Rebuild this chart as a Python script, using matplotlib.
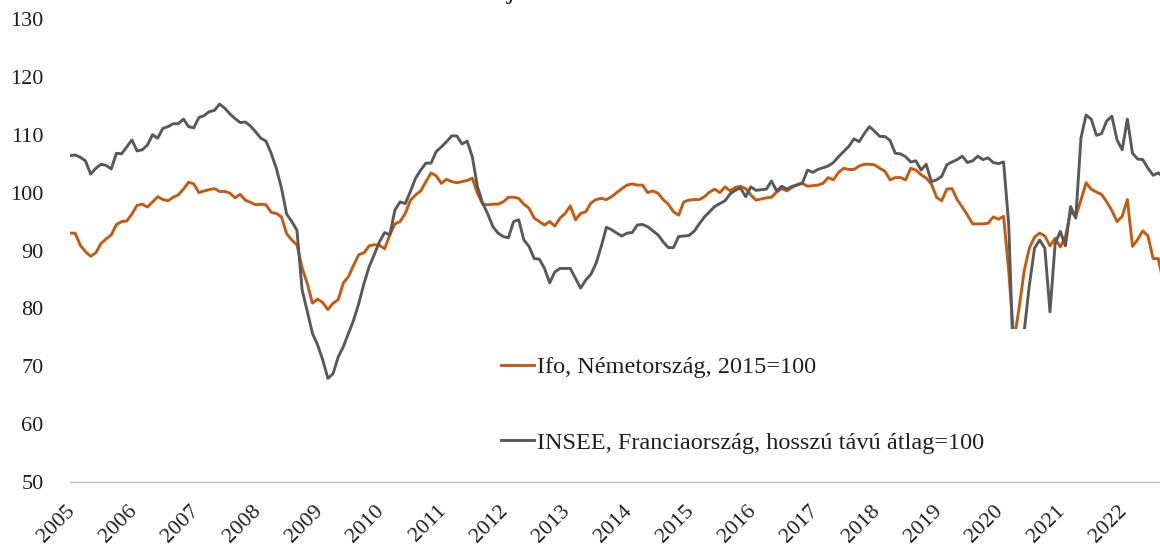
import numpy as np
import matplotlib
matplotlib.use('Agg')
import matplotlib.pyplot as plt
import matplotlib.transforms as mtransforms

# ---------------- data ----------------
start_year = 2005
year_labels = [str(y) for y in range(2005, 2023)]
ifo_label = 'Ifo, Németország, 2015=100'
insee_label = 'INSEE, Franciaország, hosszú távú átlag=100'

# monthly, Jan 2005 - Sep 2022
ifo = [
    93.0, 93.0, 90.9, 89.8, 89.0, 89.6, 91.2, 92.0, 92.7, 94.5, 95.0, 95.1,
    96.3, 97.8, 98.0, 97.5, 98.4, 99.3, 98.8, 98.6, 99.2, 99.6, 100.6, 101.8,
    101.5, 100.0, 100.3, 100.5, 100.7, 100.2, 100.2, 99.9, 99.1, 99.7, 98.7, 98.3,
    97.9, 98.0, 97.9, 96.6, 96.4, 95.8, 92.9, 91.8, 91.0, 87.0, 84.3, 80.9,
    81.6, 81.0, 79.8, 80.9, 81.5, 84.4, 85.5, 87.5, 89.3, 89.6, 90.8, 91.0,
    90.9, 90.3, 92.7, 94.6, 95.0, 96.4, 98.7, 99.6, 100.3, 101.9, 103.4, 102.9,
    101.6, 102.3, 101.9, 101.7, 101.9, 102.1, 102.5, 99.9, 98.0, 97.9, 98.0, 98.0,
    98.4, 99.2, 99.2, 99.0, 98.0, 97.3, 95.6, 95.0, 94.4, 95.0, 94.2, 95.6,
    96.4, 97.7, 95.3, 96.4, 96.7, 98.2, 98.8, 99.0, 98.8, 99.3, 100.0, 100.7,
    101.3, 101.5, 101.3, 101.3, 100.0, 100.3, 99.9, 98.8, 98.0, 96.7, 96.1, 98.4,
    98.7, 98.8, 98.8, 99.3, 100.1, 100.6, 100.0, 101.0, 100.3, 100.9, 101.1, 100.7,
    99.6, 98.7, 98.9, 99.1, 99.2, 100.1, 100.7, 100.3, 100.9, 101.4, 101.6, 101.1,
    101.2, 101.3, 101.6, 102.6, 102.2, 103.5, 104.2, 104.0, 104.0, 104.6, 104.9, 104.9,
    104.8, 104.2, 103.7, 102.2, 102.6, 102.6, 102.2, 104.2, 103.9, 103.1, 102.5, 101.5,
    99.2, 98.6, 100.6, 100.7, 98.8, 97.5, 96.1, 94.6, 94.6, 94.6, 94.7, 95.8,
    95.4, 95.9, 86.5, 74.3, 80.0, 86.5, 90.4, 92.3, 93.0, 92.5, 90.8, 92.1,
    90.6, 92.4, 96.7, 95.9, 98.7, 101.7, 100.6, 100.1, 99.7, 98.4, 96.9, 95.0,
    95.9, 98.8, 90.7, 91.9, 93.4, 92.5, 88.6, 88.6, 84.4,
]

insee = [
    106.4, 106.5, 106.1, 105.5, 103.2, 104.2, 104.9, 104.7, 104.1, 106.8, 106.7, 107.9,
    109.1, 107.2, 107.4, 108.2, 110.0, 109.4, 111.1, 111.4, 111.9, 111.9, 112.7, 111.4,
    111.2, 113.0, 113.3, 114.0, 114.2, 115.3, 114.6, 113.6, 112.8, 112.1, 112.2, 111.5,
    110.5, 109.4, 108.9, 106.8, 104.2, 100.8, 96.3, 95.0, 93.5, 83.2, 79.5, 75.7,
    73.7, 71.1, 67.9, 68.7, 71.6, 73.4, 75.7, 78.0, 80.9, 84.3, 87.2, 89.3,
    91.5, 93.1, 92.7, 97.0, 98.4, 98.1, 100.2, 102.5, 103.9, 105.1, 105.1, 107.1,
    107.9, 108.8, 109.8, 109.8, 108.4, 108.9, 106.2, 101.0, 98.2, 96.3, 94.1, 93.0,
    92.4, 92.2, 95.0, 95.3, 91.8, 90.7, 88.6, 88.5, 86.9, 84.4, 86.3, 86.9,
    86.9, 86.9, 85.2, 83.5, 84.9, 85.9, 87.8, 90.7, 94.0, 93.6, 93.0, 92.5,
    93.0, 93.1, 94.4, 94.5, 94.1, 93.4, 92.7, 91.5, 90.5, 90.5, 92.4, 92.5,
    92.6, 93.3, 94.6, 95.8, 96.7, 97.6, 98.1, 98.6, 99.8, 100.4, 100.8, 99.3,
    101.0, 100.4, 100.5, 100.6, 102.0, 100.3, 101.1, 100.6, 101.1, 101.3, 101.7, 103.9,
    103.5, 104.0, 104.3, 104.6, 105.2, 106.2, 107.1, 108.0, 109.3, 108.8, 110.2, 111.4,
    110.6, 109.7, 109.7, 109.0, 106.8, 106.7, 106.2, 105.3, 105.5, 103.9, 104.9, 101.9,
    102.2, 102.8, 104.8, 105.3, 105.7, 106.3, 105.2, 105.5, 106.3, 105.7, 106.0, 105.2,
    105.0, 105.3, 94.5, 68.0, 70.0, 76.0, 84.0, 90.4, 91.8, 90.4, 79.4, 91.2,
    93.3, 90.8, 97.6, 95.6, 109.4, 113.4, 112.7, 109.9, 110.2, 112.4, 113.2, 109.1,
    107.4, 112.7, 106.8, 105.8, 105.7, 104.2, 103.0, 103.4, 102.7,
]

# ---------------- style ----------------
plt.rcParams['font.family'] = ['Liberation Serif', 'DejaVu Serif']
text_color = '#1f1f1f'
ifo_color = '#C55A11'
insee_color = '#595959'

W, H = 1160, 547
fig = plt.figure(figsize=(W / 100, H / 100), dpi=100)
ax = fig.add_axes([70 / W, 65 / H, 1090 / W, 463 / H])

t = start_year + np.arange(len(ifo)) / 12.0
ax.plot(t, ifo, color=ifo_color, lw=2.1, label=ifo_label, solid_joinstyle='round')
ax.plot(t, insee, color=insee_color, lw=2.1, label=insee_label, solid_joinstyle='round')

ax.set_ylim(50, 130)
ax.set_yticks(range(50, 131, 10))
ax.set_xlim(start_year, start_year + 211.33 / 12.0)
ax.set_xticks(range(2005, 2023))
ax.set_xticklabels(year_labels, rotation=45, ha='right', va='top')

for s in ['left', 'top', 'right']:
    ax.spines[s].set_visible(False)
ax.spines['bottom'].set_color('#BFBFBF')
ax.spines['bottom'].set_linewidth(0.9)

ax.tick_params(axis='y', length=0, pad=19, labelsize=16, labelcolor=text_color)
ax.tick_params(axis='x', length=0, pad=14, labelsize=16, labelcolor=text_color)
offset = mtransforms.ScaledTranslation(9 / 100, 0, fig.dpi_scale_trans)
for lab in ax.get_xticklabels():
    lab.set_transform(lab.get_transform() + offset)

# legend with opaque white box (covers the lines beneath it, as in the original)
box_left, box_top, box_right, box_bottom = 474, 329, 1030, 478
leg = ax.legend(loc='upper left',
                bbox_to_anchor=(box_left / W, (H - box_bottom) / H,
                                (box_right - box_left) / W, (box_bottom - box_top) / H),
                bbox_transform=fig.transFigure, mode='expand', frameon=True,
                facecolor='white', edgecolor='none', framealpha=1, fancybox=False,
                borderpad=1.13, borderaxespad=0, handlelength=1.32,
                handletextpad=0.14, labelspacing=2.2, fontsize=17.5)
for txt in leg.get_texts():
    txt.set_color(text_color)

# remnant of the cropped title at the top edge
fig.text(511 / W, 1 + 1.5 / H, 'j', ha='center', va='baseline', fontsize=20,
         color=text_color)

fig.savefig('out.png', dpi=100)
